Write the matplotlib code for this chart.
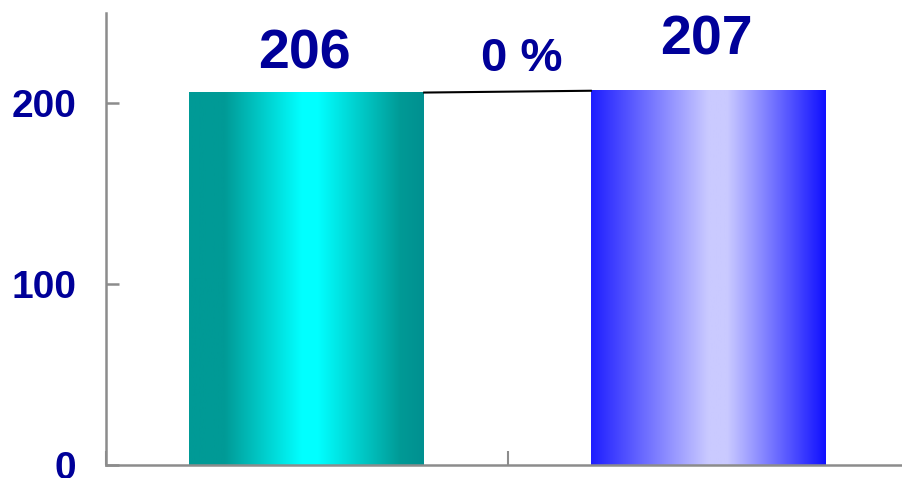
import numpy as np
import matplotlib.pyplot as plt
from matplotlib.colors import LinearSegmentedColormap

plt.rcParams['font.family'] = ['Liberation Sans', 'DejaVu Sans']

values  = [206, 207]
labels  = ['206', '207']
change  = '0 %'
yticks  = [0, 100, 200]

navy = '#000099'
grey = '#8c8c8c'

# shading across each bar: edge -> centre -> edge
shade_cmaps = [
    LinearSegmentedColormap.from_list('teal', [(0.0, '#009a96'), (0.15, '#009a96'),
                                               (0.48, '#00ffff'), (0.55, '#00ffff'),
                                               (0.9, '#009a96'), (1.0, '#009090')]),
    LinearSegmentedColormap.from_list('blue', [(0.0, '#1e1eff'), (0.5, '#cacaff'),
                                               (0.58, '#cacaff'), (1.0, '#1010ff')]),
]

fig = plt.figure(figsize=(9.02, 4.78), dpi=100)
ax = fig.add_axes([106 / 902, 13 / 478, 803 / 902, 452 / 478])

x = np.arange(len(values))
bars = ax.bar(x, values, width=0.585, color='none', zorder=2)

grad = np.linspace(0, 1, 256).reshape(1, -1)
for b, cm in zip(bars, shade_cmaps):
    x0, y0 = b.get_x(), b.get_y()
    ax.imshow(grad, cmap=cm, aspect='auto', zorder=1,
              extent=[x0, x0 + b.get_width(), y0, y0 + b.get_height()])

# connector between the bar tops
b0, b1 = bars[0], bars[1]
ax.plot([b0.get_x() + b0.get_width(), b1.get_x()], [values[0], values[1]],
        color='black', lw=1.5, zorder=3)

offsets = [24, 36]
for xi, v, lab, off in zip(x, values, labels, offsets):
    ax.annotate(lab, (xi, v), xytext=(-2, off), textcoords='offset pixels',
                ha='center', va='baseline', fontsize=40, fontweight='bold', color=navy)
ax.annotate(change, ((x[0] + x[1]) / 2, max(values)), xytext=(14, 20),
            textcoords='offset pixels', ha='center', va='baseline',
            fontsize=34, fontweight='bold', color=navy)

ax.set_xlim(-0.5, 1.5)
ax.set_ylim(0, 250)
ax.set_yticks(yticks)
ax.set_yticklabels([str(t) for t in yticks], fontsize=28, fontweight='bold', color=navy)
ax.set_xticks([-0.5, 0.5])
ax.set_xticklabels([])

for s in ['top', 'right']:
    ax.spines[s].set_visible(False)
for s in ['left', 'bottom']:
    ax.spines[s].set_color(grey)
    ax.spines[s].set_linewidth(1.8)
ax.tick_params(axis='y', direction='in', length=9, width=1.8, color=grey, pad=21.5)
ax.tick_params(axis='x', direction='in', length=10, width=1.5, color=grey)

fig.savefig('out.png', dpi=100)
